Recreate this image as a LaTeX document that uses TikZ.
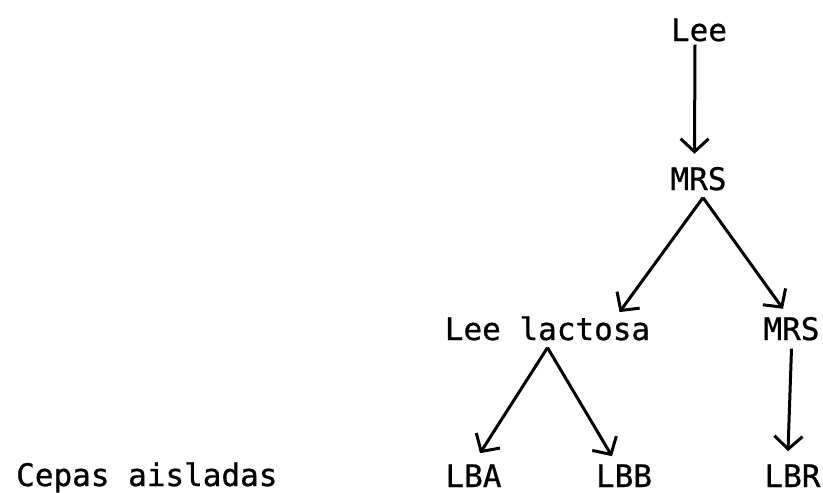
\documentclass[tikz,border=0pt]{standalone}
\usepackage{fontspec}
\newfontfamily\typer[FakeBold=0.8]{DejaVu Sans Mono}
\usetikzlibrary{arrows.meta}
\begin{document}
\begin{tikzpicture}[x=1pt,y=-1pt,
  lbl/.style={inner sep=0pt,anchor=base,font=\typer\fontsize{31}{37}\selectfont},
  arr/.style={line width=3pt,-{Straight Barb[length=13pt,width=28pt,line width=3pt]}}]
  \useasboundingbox (0,0) rectangle (823,493);
  % strain labels
  \node[lbl] (lee)    at (699,41)    {Lee};
  \node[lbl] (mrs1)   at (698.5,190) {MRS};
  \node[lbl] (leelac) at (547.5,340) {Lee lactosa};
  \node[lbl] (mrs2)   at (791.5,340) {MRS};
  \node[lbl] (lba)    at (473.5,487) {LBA};
  \node[lbl] (lbb)    at (624,487)   {LBB};
  \node[lbl] (lbr)    at (792.5,487) {LBR};
  \node[lbl,anchor=base west] (cepas) at (16,486) {Cepas aisladas};
  % derivation arrows
  \draw[arr] ([xshift=-4pt,yshift=-3pt]lee.south) -- ([xshift=-4pt,yshift=13pt]mrs1.north);
  \draw[arr] ([xshift=4.5pt,yshift=-7pt]mrs1.south) -- ([xshift=72pt,yshift=4pt]leelac.north);
  \draw[arr] ([xshift=4.5pt,yshift=-7pt]mrs1.south) -- ([xshift=-8.5pt,yshift=8pt]mrs2.north);
  \draw[arr] ([yshift=-7pt]leelac.south) -- ([xshift=6.5pt,yshift=11pt]lba.north);
  \draw[arr] ([yshift=-7pt]leelac.south) -- ([xshift=-12pt,yshift=8pt]lbb.north);
  \draw[arr] ([yshift=-8pt]mrs2.south) -- ([xshift=-4.5pt,yshift=13pt]lbr.north);
\end{tikzpicture}
\end{document}
